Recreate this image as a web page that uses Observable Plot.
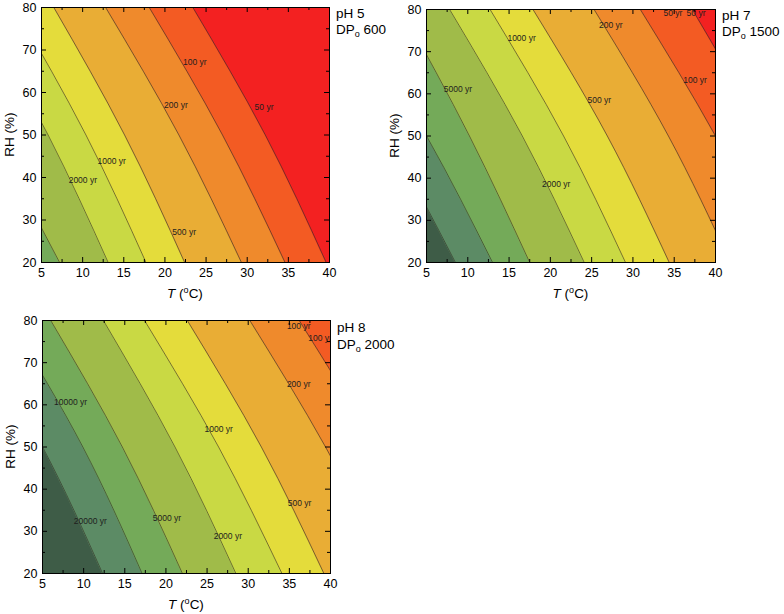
<!DOCTYPE html>
<html><head><meta charset="utf-8">
<script src="https://cdn.jsdelivr.net/npm/d3@7"></script>
<script src="https://cdn.jsdelivr.net/npm/@observablehq/plot@0.6"></script>
<style>
body{margin:0;background:#fff;font-family:"Liberation Sans",Arial,sans-serif;}
#wrap{position:relative;width:784px;height:614px;overflow:hidden;background:#fff;}
.panel{position:absolute;}
</style></head><body><div id="wrap"></div>
<script>
// ---- data ----
const allLevels = [20000, 10000, 5000, 2000, 1000, 500, 200, 100, 50];
const bandNames = [">20000 yr","10000–20000 yr","5000–10000 yr","2000–5000 yr","1000–2000 yr","500–1000 yr","200–500 yr","100–200 yr","50–100 yr","<50 yr"];
const bandColors = ["#3e5c47","#5c8b65","#74aa59","#a0bb49","#c9d944","#e4dc3b","#e9ad35","#ef8a2c","#f35b23","#f32121"];
const rhSamples = [20, 50, 80];   // RH (%) at which each contour's temperature is read

// panel 1: pH 5, DP0 600 — T (°C) of each contour at RH 20 / 50 / 80 (beyond 5–40 lies outside the frame)
const levels1 = [5000, 2000, 1000, 500, 200, 100, 50];
const tAtRH1 = [
  [7.2, -1.0, -9.5],
  [13.1, 5.8, -2.8],
  [17.7, 10.4, 1.8],
  [22.4, 15.1, 6.5],
  [29.3, 21.7, 12.8],
  [34.6, 27.0, 18.1],
  [39.6, 32.2, 23.4]
];
const labels1 = [["100 yr",22.2,67.2],["200 yr",19.9,56.9],["50 yr",30.9,56.6],["1000 yr",11.8,43.8],["2000 yr",8.3,39.4],["500 yr",20.9,27.2]];

// panel 2: pH 7, DP0 1500
const levels2 = [20000, 10000, 5000, 2000, 1000, 500, 200, 100, 50];
const tAtRH2 = [
  [8.5, 0.3, -9.0],
  [13.0, 5.0, -4.3],
  [17.5, 10.2, 2.0],
  [24.1, 16.6, 7.8],
  [29.1, 21.6, 12.7],
  [34.4, 26.9, 17.9],
  [41.8, 34.3, 25.3],
  [47.8, 40.0, 30.9],
  [54.0, 46.0, 37.2]
];
const labels2 = [["5000 yr",7.1,61.0],["1000 yr",14.8,73.1],["2000 yr",19.0,38.6],["500 yr",24.5,58.4],["200 yr",25.9,76.3],["100 yr",36.1,63.2],["50 yr",33.7,79.0],["50 yr",36.5,79.0]];

// panel 3: pH 8, DP0 2000
const levels3 = [20000, 10000, 5000, 2000, 1000, 500, 200, 100];
const tAtRH3 = [
  [12.3, 5.0, -4.0],
  [17.1, 9.9, 1.0],
  [22.0, 14.7, 6.0],
  [28.5, 21.1, 12.4],
  [34.1, 26.4, 17.4],
  [39.2, 31.6, 22.6],
  [47.3, 39.4, 30.2],
  [53.4, 45.5, 36.2]
];
const labels3 = [["20000 yr",8.8,32.5],["10000 yr",6.4,60.6],["5000 yr",18.4,33.0],["2000 yr",25.8,28.9],["1000 yr",24.7,54.1],["500 yr",34.8,36.6],["200 yr",34.7,64.8],["100 yr",34.7,78.7],["100 yr",37.3,75.8]];

const xTicks = [5, 10, 15, 20, 25, 30, 35, 40];
const yTicks = [20, 30, 40, 50, 60, 70, 80];

// ---- layout ----
const panels = [
  {levels: levels1, lines: tAtRH1, labels: labels1, ph: "pH 5", dp: "600", left: 0, top: 0, width: 392, height: 305, mL: 41, mR: 63, mT: 7, mB: 43, phY: 18, dpY: 34},
  {levels: levels2, lines: tAtRH2, labels: labels2, ph: "pH 7", dp: "1500", left: 384, top: 0, width: 400, height: 305, mL: 42, mR: 69, mT: 9, mB: 43, phY: 20, dpY: 36},
  {levels: levels3, lines: tAtRH3, labels: labels3, ph: "pH 8", dp: "2000", left: 0, top: 305, width: 392, height: 309, mL: 42, mR: 62, mT: 15, mB: 41, phY: 27, dpY: 44}
];

const wrap = document.getElementById("wrap");
const FONT = "'Liberation Sans', Arial, sans-serif";

for (const p of panels) {
  const plotW = p.width - p.mL - p.mR, plotH = p.height - p.mT - p.mB;
  const n = p.levels.length;
  const bandRows = [];
  for (let j = 0; j <= n; j++) {
    const lo = j === 0 ? [-40, -40, -40] : p.lines[j - 1];
    const hi = j === n ? [90, 90, 90] : p.lines[j];
    const name = j === 0 ? bandNames[allLevels.indexOf(p.levels[0])] : bandNames[allLevels.indexOf(p.levels[j - 1]) + 1];
    rhSamples.forEach((rh, k) => bandRows.push({band: name, RH: rh, lo: lo[k], hi: hi[k]}));
  }
  const lineRows = [];
  p.levels.forEach((lv, i) => rhSamples.forEach((rh, k) => lineRows.push({level: lv, RH: rh, T: p.lines[i][k]})));

  const xMin = xTicks.slice(0, -1).map(v => v + 2.5);
  const yMin = yTicks.slice(0, -1).map(v => v + 5);
  const tick = "#000";
  const chart = Plot.plot({
    width: p.width, height: p.height,
    marginLeft: p.mL, marginRight: p.mR, marginTop: p.mT, marginBottom: p.mB,
    x: {domain: [5, 40], ticks: xTicks, tickSize: 0, tickPadding: 6, label: null},
    y: {domain: [20, 80], ticks: yTicks, tickSize: 0, tickPadding: 5, label: null},
    color: {domain: bandNames, range: bandColors},
    style: {fontFamily: FONT, fontSize: "12.5px", color: "#000", background: "transparent", overflow: "visible"},
    marks: [
      Plot.areaX(bandRows, {y: "RH", x1: "lo", x2: "hi", z: "band", fill: "band", stroke: "band", strokeWidth: 0.6, curve: "natural", clip: true}),
      Plot.line(lineRows, {x: "T", y: "RH", z: "level", curve: "natural", stroke: "#2b2b1e", strokeOpacity: 0.8, strokeWidth: 0.75, clip: true}),
      Plot.text(p.labels, {x: d => d[1], y: d => d[2], text: d => d[0], textAnchor: "start", fontSize: 8.5, fill: "#1e1e1e", clip: true}),
      Plot.ruleX(xTicks, {x: d => d, insetTop: plotH - 5, stroke: tick}),
      Plot.ruleX(xTicks, {x: d => d, insetBottom: plotH - 5, stroke: tick}),
      Plot.ruleX(xMin, {x: d => d, insetTop: plotH - 3, stroke: tick}),
      Plot.ruleX(xMin, {x: d => d, insetBottom: plotH - 3, stroke: tick}),
      Plot.ruleY(yTicks, {y: d => d, insetRight: plotW - 5, stroke: tick}),
      Plot.ruleY(yTicks, {y: d => d, insetLeft: plotW - 5, stroke: tick}),
      Plot.ruleY(yMin, {y: d => d, insetRight: plotW - 3, stroke: tick}),
      Plot.ruleY(yMin, {y: d => d, insetLeft: plotW - 3, stroke: tick}),
      Plot.frame({stroke: "#000", strokeWidth: 1})
    ]
  });

  const svg = d3.select(chart).attr("font-family", FONT);
  // x axis title  T (°C)
  const tx = svg.append("text").attr("x", p.mL + plotW / 2).attr("y", p.mT + plotH + 36)
    .attr("text-anchor", "middle").attr("font-size", 13.5).attr("fill", "#000");
  tx.append("tspan").attr("font-style", "italic").text("T");
  tx.append("tspan").text(" (");
  tx.append("tspan").attr("font-size", 9).attr("dy", -5).text("o");
  tx.append("tspan").attr("dy", 5).text("C)");
  // y axis title
  svg.append("text").attr("transform", `translate(${p.mL - 27},${p.mT + plotH / 2}) rotate(-90)`)
    .attr("text-anchor", "middle").attr("font-size", 13.5).attr("fill", "#000").text("RH (%)");
  // panel annotation
  const ax = p.mL + plotW + 7;
  svg.append("text").attr("x", ax).attr("y", p.phY).attr("text-anchor", "start").attr("font-size", 13.5).attr("fill", "#000").text(p.ph);
  const dp = svg.append("text").attr("x", ax).attr("y", p.dpY).attr("text-anchor", "start").attr("font-size", 13.5).attr("fill", "#000");
  dp.append("tspan").text("DP");
  dp.append("tspan").attr("font-size", 9).attr("dy", 3).text("o");
  dp.append("tspan").attr("dy", -3).text(" " + p.dp);

  const div = document.createElement("div");
  div.className = "panel";
  div.style.left = p.left + "px";
  div.style.top = p.top + "px";
  div.appendChild(chart);
  wrap.appendChild(div);
}
</script></body></html>
